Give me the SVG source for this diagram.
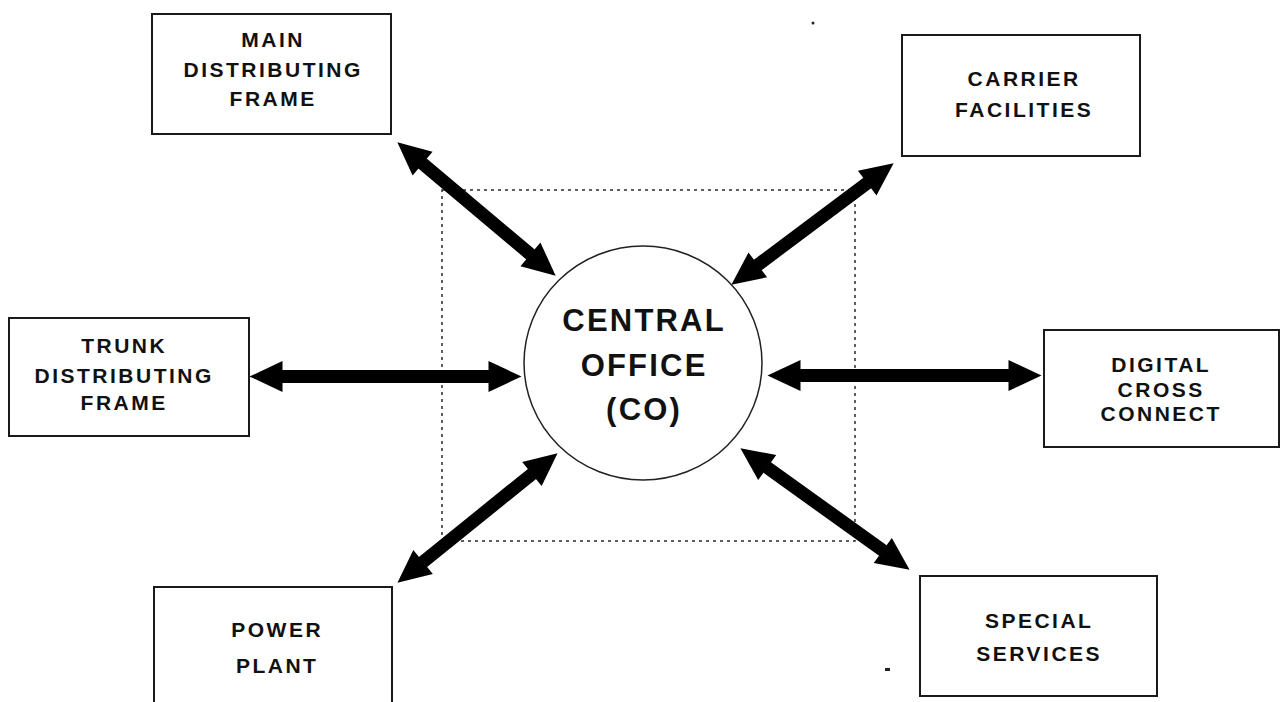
<svg xmlns="http://www.w3.org/2000/svg" width="1285" height="702" viewBox="0 0 1285 702">
  <style>
    .box { fill: #ffffff; stroke: #1a1a1a; stroke-width: 2; }
    .lbl { font-family: "Liberation Sans", Arial, Helvetica, sans-serif; font-weight: bold; font-size: 21px; letter-spacing: 2.5px; fill: #111111; text-anchor: middle; }
    .co { font-family: "Liberation Sans", Arial, Helvetica, sans-serif; font-weight: bold; font-size: 31px; letter-spacing: 2.2px; fill: #111111; text-anchor: middle; }
    .arrow { stroke: #000000; stroke-width: 13; fill: none; marker-start: url(#ah); marker-end: url(#ah); }
    .dotted { fill: none; stroke: #2a2a2a; stroke-width: 1.5; stroke-dasharray: 3 4; }
  </style>
  <defs>
    <marker id="ah" viewBox="0 -16 33 32" refX="0.5" refY="0" markerWidth="33" markerHeight="32" markerUnits="userSpaceOnUse" orient="auto-start-reverse" overflow="visible">
      <path d="M0,-15.5 L33,0 L0,15.5 z" fill="#000000"/>
    </marker>
  </defs>
  <rect width="1285" height="702" fill="#ffffff"/>

  <rect class="dotted" x="442" y="190" width="413" height="351"/>

  <g id="connectors">
    <line class="arrow" x1="422.2" y1="163.3" x2="530.8" y2="254.7"/>
    <line class="arrow" x1="867.6" y1="182.8" x2="757.4" y2="265.2"/>
    <line class="arrow" x1="282" y1="376.5" x2="489" y2="376.5"/>
    <line class="arrow" x1="800" y1="375.5" x2="1009" y2="375.5"/>
    <line class="arrow" x1="422.7" y1="562.3" x2="532.3" y2="473.7"/>
    <line class="arrow" x1="766.8" y1="467.2" x2="883.2" y2="550.8"/>
  </g>

  <g id="central-office">
    <ellipse cx="643" cy="363" rx="119" ry="117" fill="#ffffff" stroke="#222222" stroke-width="1.5"/>
    <text class="co" x="644.1" y="331">CENTRAL</text>
    <text class="co" x="644.1" y="376">OFFICE</text>
    <text class="co" x="644.1" y="420">(CO)</text>
  </g>

  <g id="main-distributing-frame">
    <rect class="box" x="152" y="14" width="239" height="120"/>
    <text class="lbl" x="273.2" y="47">MAIN</text>
    <text class="lbl" x="273.2" y="77">DISTRIBUTING</text>
    <text class="lbl" x="273.2" y="106">FRAME</text>
  </g>

  <g id="carrier-facilities">
    <rect class="box" x="902" y="35" width="238" height="121"/>
    <text class="lbl" x="1024.2" y="86">CARRIER</text>
    <text class="lbl" x="1024.2" y="117">FACILITIES</text>
  </g>

  <g id="trunk-distributing-frame">
    <rect class="box" x="9" y="318" width="240" height="118"/>
    <text class="lbl" x="124.2" y="353">TRUNK</text>
    <text class="lbl" x="124.2" y="383">DISTRIBUTING</text>
    <text class="lbl" x="124.2" y="410">FRAME</text>
  </g>

  <g id="digital-cross-connect">
    <rect class="box" x="1044" y="330" width="235" height="117"/>
    <text class="lbl" x="1161.2" y="372">DIGITAL</text>
    <text class="lbl" x="1161.2" y="397">CROSS</text>
    <text class="lbl" x="1161.2" y="421">CONNECT</text>
  </g>

  <g id="power-plant">
    <rect class="box" x="154" y="587" width="238" height="130"/>
    <text class="lbl" x="277.2" y="637">POWER</text>
    <text class="lbl" x="277.2" y="673">PLANT</text>
  </g>

  <g id="special-services">
    <rect class="box" x="920" y="576" width="237" height="120"/>
    <text class="lbl" x="1039.2" y="628">SPECIAL</text>
    <text class="lbl" x="1039.2" y="661">SERVICES</text>
  </g>

  <circle cx="813" cy="23" r="1.5" fill="#222222"/>
  <rect x="885" y="668" width="5" height="3" fill="#222222"/>
</svg>
